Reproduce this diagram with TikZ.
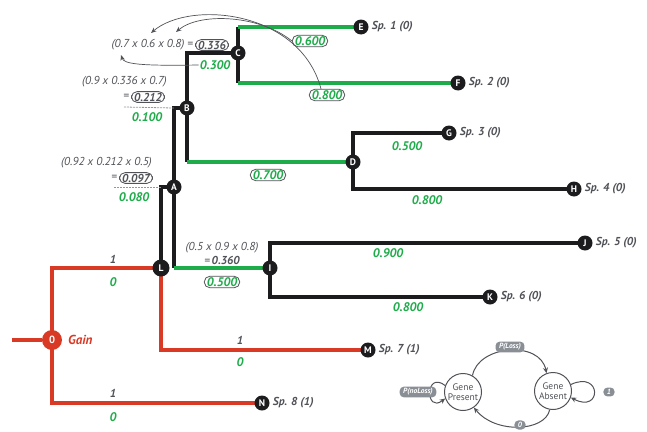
\documentclass[tikz,border=0pt]{standalone}
\usepackage{fontspec}
\setmainfont{PT Sans}
\setsansfont{PT Sans}
\usetikzlibrary{arrows.meta,backgrounds}
\definecolor{treered}{RGB}{216,58,38}
\definecolor{treegreen}{RGB}{30,172,74}
\definecolor{nodeblack}{RGB}{28,28,30}
\definecolor{textgray}{RGB}{80,82,88}
\definecolor{pillgray}{RGB}{138,143,150}
\begin{document}
\begin{tikzpicture}[x=1pt,y=-1pt,
  every node/.style={font=\sffamily},
  tnode/.style={circle,fill=nodeblack,text=white,inner sep=0pt,minimum size=15pt,
    font=\sffamily\bfseries\fontsize{9.5}{9.5}\selectfont},
  rootnode/.style={circle,fill=treered,text=white,inner sep=0pt,minimum size=20pt,
    font=\sffamily\bfseries\fontsize{10.5}{10.5}\selectfont},
  leaf/.style={font=\sffamily\bfseries\itshape\fontsize{11.5}{13}\selectfont,text=textgray,
    anchor=west,inner sep=1pt},
  blen/.style={font=\sffamily\bfseries\itshape\fontsize{12.5}{13}\selectfont,text=treegreen,inner sep=1pt},
  pill/.style={draw=textgray,line width=0.8pt,rounded corners=5.5pt,inner ysep=1.2pt,inner xsep=2.5pt},
  calctext/.style={font=\sffamily\itshape\fontsize{11.5}{13}\selectfont,text=textgray,inner sep=1pt},
  tally/.style={font=\sffamily\bfseries\itshape\fontsize{11.5}{13}\selectfont,text=textgray,inner sep=1pt},
  branch/.style={line width=3.4pt,draw=nodeblack},
  gbranch/.style={line width=3.4pt,draw=treegreen},
  rbranch/.style={line width=4.4pt,draw=treered},
  guide/.style={draw=textgray,line width=0.7pt,-{Stealth[length=5.5pt,width=4.5pt]}},
  rule/.style={draw=textgray!60,line width=0.8pt,dash pattern=on 2pt off 1pt},
  state/.style={circle,draw=textgray,line width=1pt,fill=white,minimum size=37pt,inner sep=0pt,
    align=center,font=\sffamily\fontsize{9.5}{9.5}\selectfont,text=textgray},
  tpill/.style={fill=pillgray,text=white,rounded corners=4pt,inner xsep=3.5pt,inner ysep=1.8pt,
    font=\sffamily\bfseries\itshape\fontsize{7.5}{8}\selectfont},
  sarrow/.style={draw=textgray,line width=1pt,-{Stealth[length=5.5pt,width=5pt]}},
]
\useasboundingbox (0,0) rectangle (647,431);

% ---------- tree nodes ----------
\coordinate (stem) at (12,340);
\node[rootnode] (O) at (52,340) {0};
\node[tnode,minimum size=17pt] (L) at (161,268) {L};
\node[tnode] (A) at (174,187) {A};
\node[tnode] (B) at (187,108) {B};
\node[tnode] (C) at (238,53) {C};
\node[tnode] (D) at (353,162) {D};
\node[tnode] (E) at (361,27) {E};
\node[tnode] (F) at (458,83) {F};
\node[tnode] (G) at (449,133) {G};
\node[tnode] (H) at (574,189) {H};
\node[tnode] (I) at (270,268) {I};
\node[tnode] (J) at (585,243) {J};
\node[tnode] (K) at (490,297) {K};
\node[tnode] (M) at (368,350) {M};
\node[tnode] (N) at (262,403) {N};

% ---------- branches ----------
\begin{scope}[on background layer]
  % gain lineage
  \draw[rbranch] (stem) -- (O);
  \draw[rbranch] (O.center) |- (L.center);
  \draw[rbranch] (O.center) |- (N.center);
  \draw[rbranch] (L.center) |- (M.center);
  % loss lineages
  \draw[branch] (L.center) |- (A.center);
  \draw[branch] (A.center) -- (A |- I);
  \draw[gbranch] (A |- I) -- (I.center);
  \draw[branch] (A.center) |- (B.center);
  \draw[branch] (B.center) -- (B |- D);
  \draw[gbranch] (B |- D) -- (D.center);
  \draw[branch] (B.center) |- (C.center);
  \draw[branch] (C.center) -- (C |- E);
  \draw[gbranch] (C |- E) -- (E.center);
  \draw[branch] (C.center) -- (C |- F);
  \draw[gbranch] (C |- F) -- (F.center);
  \draw[branch] (D.center) |- (G.center);
  \draw[branch] (D.center) |- (H.center);
  \draw[branch] (I.center) |- (J.center);
  \draw[branch] (I.center) |- (K.center);
\end{scope}

% ---------- species labels ----------
\node[leaf] (lE) at ([xshift=2pt]E.east) {Sp. 1 (0)};
\node[leaf] (lF) at ([xshift=2pt]F.east) {Sp. 2 (0)};
\node[leaf] (lG) at ([xshift=2pt]G.east) {Sp. 3 (0)};
\node[leaf] (lH) at ([xshift=2pt]H.east) {Sp. 4 (0)};
\node[leaf] (lJ) at ([xshift=2pt]J.east) {Sp. 5 (0)};
\node[leaf] (lK) at ([xshift=2pt]K.east) {Sp. 6 (0)};
\node[leaf] (lM) at ([xshift=2pt]M.east) {Sp. 7 (1)};
\node[leaf] (lN) at ([xshift=2pt]N.east) {Sp. 8 (1)};
\node[font=\sffamily\bfseries\itshape\fontsize{13}{14}\selectfont,text=treered,anchor=west,inner sep=1pt]
  (gain) at (67,340) {Gain};

% ---------- states along the gain lineage ----------
\node[tally] (t1) at (113,259) {1};
\node[blen] (g1) at (113,282) {0};
\node[tally] (t2) at (240,340) {1};
\node[blen] (g2) at (240,362) {0};
\node[tally] (t3) at (113,393) {1};
\node[blen] (g3) at (113,417) {0};

% ---------- branch probabilities ----------
\node[blen,pill] (p600) at (310,41) {0.600};
\node[blen,pill] (p800) at (327,95) {0.800};
\node[blen] (p300) at (215,65) {0.300};
\node[blen] (p100) at (147,117) {0.100};
\node[blen] (p080) at (134,197) {0.080};
\node[blen,pill] (p700) at (268,175) {0.700};
\node[blen,pill] (p500i) at (222,282) {0.500};
\node[blen] (p500g) at (407,146) {0.500};
\node[blen] (p800h) at (427,200) {0.800};
\node[blen] (p900) at (388,253) {0.900};
\node[blen] (p800k) at (408,307) {0.800};

% ---------- likelihood calculations ----------
\node[tally,pill] (vC) at (212,45) {0.336};
\node[calctext,anchor=east] (cC) at ([xshift=-1pt]vC.west) {(0.7 x 0.6 x 0.8) =};
\node[calctext,anchor=east] (cB) at (168,82) {(0.9 x 0.336 x 0.7)};
\node[tally,pill] (vB) at (148,97) {0.212};
\node[calctext,anchor=east] (eB) at ([xshift=-1pt]vB.west) {=};
\node[calctext,anchor=east] (cA) at (153,163) {(0.92 x 0.212 x 0.5)};
\node[tally,pill] (vA) at (136,178) {0.097};
\node[calctext,anchor=east] (eA) at ([xshift=-1pt]vA.west) {=};
\node[calctext] (cI) at (222,248) {(0.5 x 0.9 x 0.8)};
\node[tally] (vI) at (222,260) {{\mdseries =}\,0.360};

% rules under the running values
\coordinate (rB) at (124,107);
\coordinate (rA) at (114,187);
\draw[rule] (rB) -- (B.center -| A);
\draw[rule] (rA) -- (A.center -| L);

% arrows tracing each factor back to its branch
\coordinate (f7) at (121,55);
\coordinate (f6) at (151,33);
\coordinate (f8) at (176,32);
\draw[guide] (p300.west) .. controls (140,66) and (124,64) .. (f7);
\draw[guide] ([xshift=-6pt]p800.north) .. controls (300,10) and (190,0) .. (f6);
\draw[guide] (p600.west) .. controls (260,15) and (200,12) .. (f8);

% ---------- two-state model ----------
\node[state] (Pr) at (463,392) {Gene\\Present};
\node[state] (Ab) at (553,391) {Gene\\Absent};
\node[tpill] (pl) at (510,347) {P(Loss)};
\node[tpill] (z) at (520,425) {0};
\node[tpill] (pn) at (418,392) {P(noLoss)};
\node[tpill] (one) at (609,392) {1};
\begin{scope}[on background layer]
  \draw[sarrow] (Pr.60) .. controls (478,345) and (540,340) .. (Ab.110);
  \draw[sarrow] (Ab.-100) .. controls (545,432) and (495,434) .. (Pr.-55);
  \draw[sarrow] (Pr.160) .. controls (425,370) and (425,414) .. (Pr.200);
  \draw[sarrow] (Ab.20) .. controls (602,370) and (602,414) .. (Ab.-20);
\end{scope}
\end{tikzpicture}
\end{document}
